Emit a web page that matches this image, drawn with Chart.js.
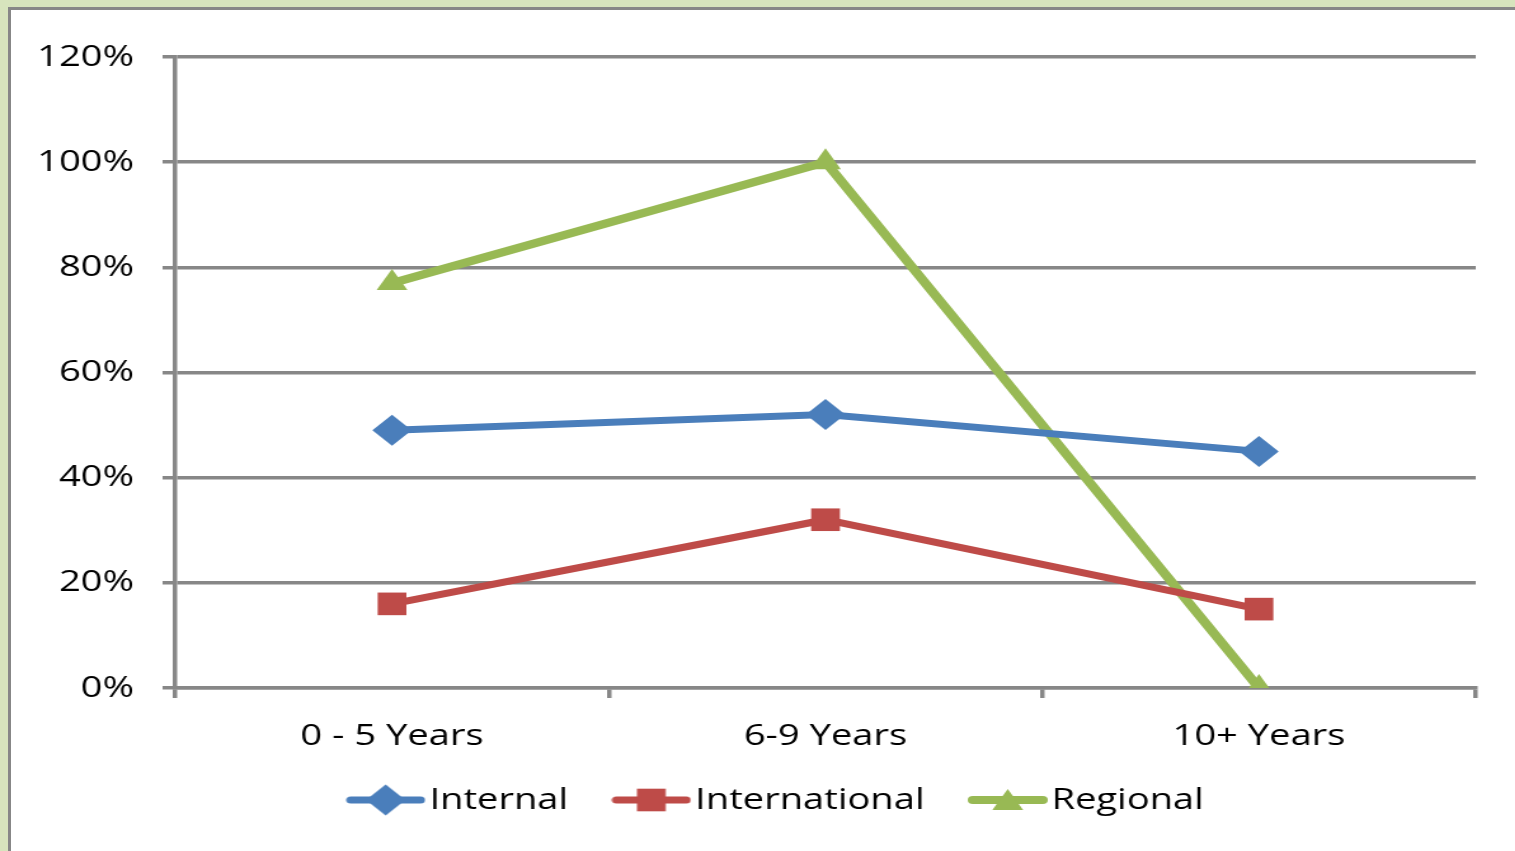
<!DOCTYPE html>
<html>
<head>
<meta charset="utf-8">
<script src="https://cdn.jsdelivr.net/npm/chart.js@4.4.1/dist/chart.umd.min.js"></script>
<style>
  html, body { margin: 0; padding: 0; }
  body { width: 1515px; height: 851px; overflow: hidden; background: #d7e4bd; position: relative; }
  #frame { position: absolute; left: 8px; top: 7px; width: 1520px; height: 860px; background: #fff; border-left: 3px solid #878787; border-top: 3px solid #878787; }
  #wrap { position: absolute; left: 0; top: 0; width: 1193px; height: 851px; transform: scaleX(1.27); transform-origin: 0 0; }
</style>
</head>
<body>
<div id="frame"></div>
<div id="wrap"><canvas id="chart"></canvas></div>
<script>
const categories = ['0 - 5 Years', '6-9 Years', '10+ Years']
const internal = [49, 52, 45]
const international = [16, 32, 15]
const regional = [77, 100, 0]
const yTicks = [0, 20, 40, 60, 80, 100, 120]

const gridGray = '#878787'
const font = { family: 'Open Sans', size: 30 }

const series = [
    { label: 'Internal', data: internal, color: '#4a7ebb', style: 'rectRot', radius: 15.5, width: 7 },
    { label: 'International', data: international, color: '#be4b48', style: 'rect', radius: 16, width: 7 },
    { label: 'Regional', data: regional, color: '#98b954', style: 'triangle', radius: 14, width: 8 }
]

// small line + marker sample used as the legend symbol
function legendSymbol(s) {
    const c = document.createElement('canvas')
    c.width = 63
    c.height = 32
    const ctx = c.getContext('2d')
    ctx.strokeStyle = s.color
    ctx.lineWidth = s.width
    ctx.lineCap = 'round'
    ctx.beginPath()
    ctx.moveTo(4, 16)
    ctx.lineTo(59, 16)
    ctx.stroke()
    ctx.fillStyle = s.color
    ctx.strokeStyle = s.color
    Chart.helpers.drawPoint(ctx, { pointStyle: s.style, radius: s.radius, borderWidth: 0 }, 31.5, s.style === 'triangle' ? 19 : 16)
    return c
}

// pull the legend up closer to the axis labels and nudge it right
const legendNudge = {
    id: 'legendNudge',
    afterLayout(chart) {
        const lg = chart.legend
        lg.top -= 15
        lg.bottom -= 15
        lg.left += 35
        lg.right += 35
    }
}

new Chart('chart', {
    type: 'line',
    data: {
        labels: categories,
        datasets: series.map(s => ({
            label: s.label,
            data: s.data,
            borderColor: s.color,
            backgroundColor: s.color,
            borderWidth: s.width,
            pointStyle: s.style,
            pointRadius: s.radius,
            pointBorderWidth: 0,
            tension: 0
        }))
    },
    plugins: [legendNudge],
    options: {
        responsive: true,
        maintainAspectRatio: false,
        animation: false,
        layout: { padding: { top: 57, right: 31, left: 0, bottom: 11 } },
        plugins: {
            tooltip: { enabled: false },
            legend: {
                position: 'bottom',
                labels: {
                    font: font,
                    color: '#000',
                    usePointStyle: true,
                    pointStyleWidth: 39,
                    padding: 46,
                    generateLabels: chart => series.map((s, i) => ({
                        text: s.label,
                        fillStyle: s.color,
                        strokeStyle: s.color,
                        lineWidth: 0,
                        pointStyle: legendSymbol(s),
                        hidden: false,
                        datasetIndex: i,
                        fontColor: '#000'
                    }))
                }
            }
        },
        scales: {
            x: {
                offset: true,
                grid: { drawOnChartArea: false, color: gridGray, lineWidth: 3.5, tickLength: 10, offset: true },
                border: { color: gridGray, width: 3.5 },
                ticks: { font: font, color: '#000', padding: 20, maxRotation: 0 },
                afterFit: s => { s.height = 66 }
            },
            y: {
                min: 0,
                max: 120,
                afterBuildTicks: s => { s.ticks = yTicks.map(v => ({ value: v })) },
                grid: { color: gridGray, lineWidth: 3.5, tickLength: 10 },
                border: { color: gridGray, width: 3.5 },
                ticks: { font: font, color: '#000', padding: 22.5, callback: v => v + '%' },
                afterFit: s => { s.width = 138 }
            }
        }
    }
})
</script>
</body>
</html>
